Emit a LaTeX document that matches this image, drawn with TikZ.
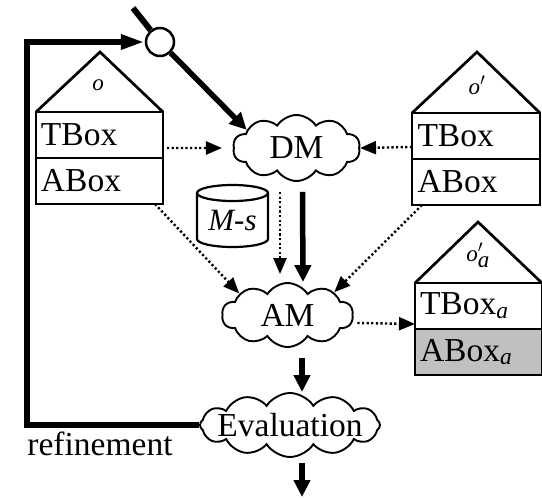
\documentclass[tikz,border=0pt]{standalone}
\usepackage{fontspec}
\setmainfont{Liberation Serif}
\usetikzlibrary{shapes.symbols,arrows.meta}
\definecolor{aboxgray}{RGB}{192,192,192}
\tikzset{
  big/.style={font=\fontsize{33.5}{36}\selectfont},
  rowbox/.style={draw, line width=2.9pt, anchor=north west, minimum height=46pt,
    text width=117pt, inner xsep=5pt, inner ysep=0pt, outer sep=0pt, align=left, big},
  roof/.style={line width=2.7pt, line join=miter},
  houselabel/.style={font=\fontsize{23}{25}\selectfont\itshape, inner sep=0pt},
  cloudbox/.style={cloud, draw, line width=1.9pt, cloud puffs=10, cloud puff arc=115,
    cloud ignores aspect, inner sep=0pt},
  thickarr/.style={line width=5.5pt, -{Triangle[length=17pt,width=16pt]}},
  thickline/.style={line width=6pt},
  dotarr/.style={line width=2.4pt, dash pattern=on 2.2pt off 2.4pt,
    -{Triangle[length=16pt,width=13pt]}},
}
\begin{document}
\begin{tikzpicture}[x=1pt,y=-1pt]
\useasboundingbox (0,0) rectangle (542,498);

% ontology o
\node[rowbox, minimum width=127pt] (oT) at (36,112) {TBox};
\node[rowbox, minimum width=127pt] (oA) at (oT.south west) {ABox};
\draw[roof] (oT.north west) -- (100,52) -- (oT.north east);
\node[houselabel] (ol) at (98,85) {o};

% ontology o'
\node[rowbox, minimum width=128pt] (pT) at (412,113) {TBox};
\node[rowbox, minimum width=128pt] (pA) at (pT.south west) {ABox};
\draw[roof] (pT.north west) -- (477,52) -- (pT.north east);
\node[houselabel] (pl) at (477,85) {o$'$};

% aligned ontology o'_a
\node[rowbox, minimum width=126pt] (qT) at (415,283) {TBox\textsubscript{\itshape a}};
\node[rowbox, minimum width=126pt, fill=aboxgray] (qA) at (qT.south west) {ABox\textsubscript{\itshape a}};
\draw[roof] (qT.north west) -- (478,222) -- (qT.north east);
\node[houselabel] (ql) at (478,255) {o$'_{\textit{a}}$};

% matchers and evaluation
\node[cloudbox, minimum width=127pt, minimum height=66pt] (dm) at (296.5,148) {};
\node[big, inner sep=0pt] (dmt) at (dm) {DM};
\node[cloudbox, minimum width=131pt, minimum height=64pt] (am) at (287.5,315) {};
\node[big, inner sep=0pt] (amt) at (am) {AM};
\node[cloudbox, cloud puffs=12, minimum width=180pt, minimum height=64pt] (ev) at (290,425) {};
\node[big, inner sep=0pt] (evt) at (ev) {Evaluation};

% M-s store
\draw[line width=2.2pt, fill=white] (197,193) -- (197,239) arc[start angle=180, end angle=360, x radius=35.5pt, y radius=8pt] -- (268,193);
\draw[line width=2.2pt] (232.5,193) ellipse[x radius=35.5pt, y radius=8pt];
\node[font=\fontsize{31}{34}\selectfont\itshape, inner sep=0pt] (ms) at (232.5,221) {M-s};

% input junction
\node[circle, draw, line width=2.5pt, fill=white, minimum size=28pt, inner sep=0pt] (c) at (160,42) {};
\coordinate (in) at (133,8);
\coordinate (lp) at (27,42);
\coordinate (out) at (302,497);

% flows
\draw[thickline] (in) -- (c);
\draw[thickarr] (c) -- (dm.160);
\draw[thickline, -{Triangle[length=24pt,width=14pt]}] (ev.west) -| (lp) -- (c);
\draw[thickarr] ([shift={(6pt,-10pt)}]dm.south) -- ([xshift=15.5pt]am.north);
\draw[thickarr] ([shift={(14.5pt,-10pt)}]am.south) -- ([xshift=12pt]ev.north);
\draw[thickarr] ([shift={(12pt,-5pt)}]ev.south) -- (out);

\draw[dotarr] ([shift={(4pt,-13pt)}]oT.east) -- ([xshift=-11pt]dm.west);
\draw[dotarr] ([yshift=-11pt]pT.west) -- (dm.east);
\draw[dotarr] ([shift={(-16.5pt,-10pt)}]dm.south) -- ([shift={(-7.5pt,8pt)}]am.north);
\draw[dotarr] ([xshift=-8pt]oA.south east) -- (am.156);
\draw[dotarr] ([xshift=10pt]pA.south west) -- (am.26);
\draw[dotarr] ([shift={(4pt,-8pt)}]am.east) -- ([yshift=-18pt]qT.west);

\node[big, anchor=base, inner sep=0pt] (ref) at (100,455) {refinement};
\end{tikzpicture}
\end{document}
